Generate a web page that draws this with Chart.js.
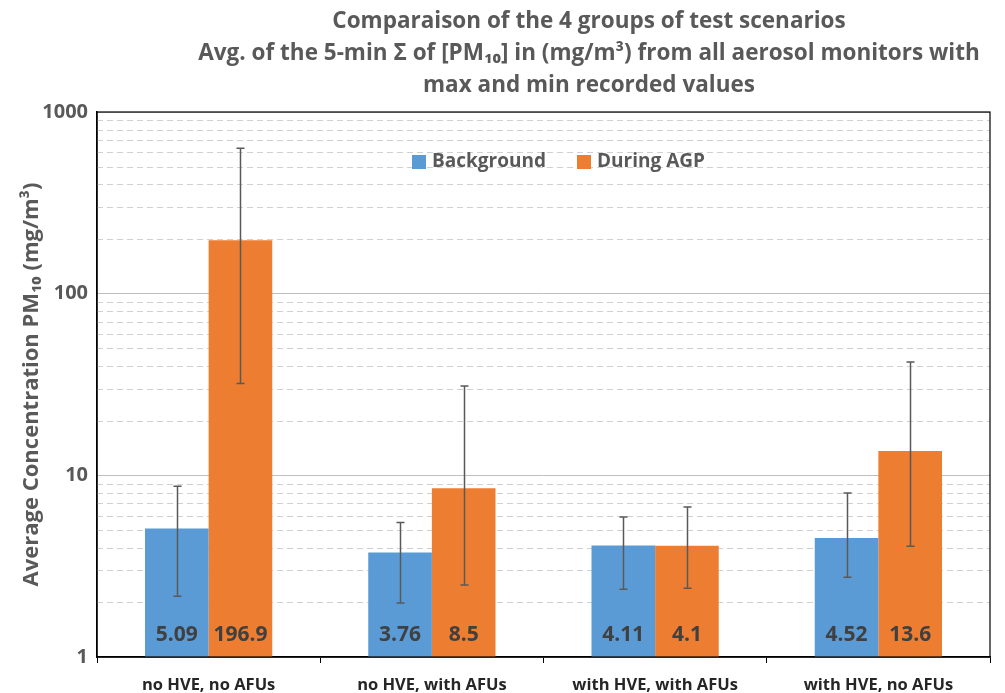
<!DOCTYPE html>
<html>
<head>
<meta charset="utf-8">
<script src="https://cdn.jsdelivr.net/npm/chart.js@4.4.1/dist/chart.umd.min.js"></script>
<style>
html, body { margin: 0; padding: 0; background: #fff; }
#wrap { width: 1005px; height: 693px; }
</style>
</head>
<body>
<div id="wrap"><canvas id="pmChart"></canvas></div>
<script>
const categories = ['no HVE, no AFUs', 'no HVE, with AFUs', 'with HVE, with AFUs', 'with HVE, no AFUs'];
const seriesNames = ['Background', 'During AGP'];
const backgroundAvg = [5.09, 3.76, 4.11, 4.52];
const duringAvg = [196.9, 8.5, 4.1, 13.6];
const backgroundMax = [8.7, 5.5, 5.9, 8.0];
const backgroundMin = [2.16, 1.98, 2.36, 2.75];
const duringMax = [632, 31, 6.7, 42];
const duringMin = [32, 2.49, 2.39, 4.07];
const backgroundLabels = ['5.09', '3.76', '4.11', '4.52'];
const duringLabels = ['196.9', '8.5', '4.1', '13.6'];
const yTicks = [1, 10, 100, 1000];
const titleLines = [
    'Comparaison of the 4 groups of test scenarios',
    'Avg. of the 5-min \u03A3 of [PM\u2081\u2080] in (mg/m\u00B3) from all aerosol monitors with',
    'max and min recorded values'
];
const yTitle = 'Average Concentration PM\u2081\u2080 (mg/m\u00B3)';

const FONT = '"Open Sans", "Liberation Sans", sans-serif';
const GREY = '#595959';

// dashed minor gridlines, 2..9 of each decade
const minorGrid = {
    id: 'minorGrid',
    beforeDatasetsDraw(chart) {
        const {ctx, chartArea, scales: {y}} = chart;
        ctx.save();
        ctx.strokeStyle = '#d0d0d0';
        ctx.lineWidth = 1;
        ctx.setLineDash([6, 4]);
        for (let d = 1; d < 1000; d *= 10) {
            for (let m = 2; m <= 9; m++) {
                const py = Math.round(y.getPixelForValue(d * m)) + 0.5;
                ctx.beginPath();
                ctx.moveTo(chartArea.left, py);
                ctx.lineTo(chartArea.right, py);
                ctx.stroke();
            }
        }
        ctx.restore();
    }
};

const extras = {
    id: 'extras',
    afterDatasetsDraw(chart) {
        const {ctx, chartArea, scales: {y}} = chart;
        const mins = [backgroundMin, duringMin];
        const maxs = [backgroundMax, duringMax];
        const labels = [backgroundLabels, duringLabels];
        ctx.save();
        chart.data.datasets.forEach((ds, di) => {
            const meta = chart.getDatasetMeta(di);
            meta.data.forEach((bar, i) => {
                // error bar
                const x = Math.round(bar.x) + 0.5;
                const yTop = y.getPixelForValue(maxs[di][i]);
                const yBot = y.getPixelForValue(mins[di][i]);
                ctx.strokeStyle = GREY;
                ctx.lineWidth = 1.5;
                ctx.beginPath();
                ctx.moveTo(x, yTop); ctx.lineTo(x, yBot);
                ctx.moveTo(x - 4, yTop); ctx.lineTo(x + 4, yTop);
                ctx.moveTo(x - 4, yBot); ctx.lineTo(x + 4, yBot);
                ctx.stroke();
                // value label
                ctx.fillStyle = '#404040';
                ctx.font = 'bold 21px ' + FONT;
                ctx.textAlign = 'center';
                ctx.textBaseline = 'middle';
                ctx.fillText(labels[di][i], bar.x, chartArea.bottom - 22);
            });
        });
        ctx.restore();
    },
    afterDraw(chart) {
        const {ctx, chartArea} = chart;
        ctx.save();
        // plot frame
        ctx.strokeStyle = '#000';
        ctx.lineWidth = 1.2;
        ctx.strokeRect(chartArea.left, chartArea.top, chartArea.right - chartArea.left, chartArea.bottom - chartArea.top);
        // title
        ctx.fillStyle = GREY;
        ctx.font = 'bold 22.5px ' + FONT;
        ctx.textAlign = 'center';
        ctx.textBaseline = 'middle';
        titleLines.forEach((t, i) => ctx.fillText(t, 589, 22 + i * 32));
        // legend inside the plot
        const colors = ['#5B9BD5', '#ED7D31'];
        const xs = [412, 577];
        ctx.font = 'bold 19px ' + FONT;
        ctx.textAlign = 'left';
        seriesNames.forEach((name, i) => {
            ctx.fillStyle = colors[i];
            ctx.fillRect(xs[i], 155, 14, 14);
            ctx.fillStyle = GREY;
            ctx.fillText(name, xs[i] + 20, 162);
        });
        ctx.restore();
    }
};

new Chart(document.getElementById('pmChart'), {
    type: 'bar',
    data: {
        labels: categories,
        datasets: [
            { label: seriesNames[0], data: backgroundAvg, backgroundColor: '#5B9BD5' },
            { label: seriesNames[1], data: duringAvg, backgroundColor: '#ED7D31' }
        ]
    },
    options: {
        responsive: true,
        maintainAspectRatio: false,
        animation: false,
        datasets: { bar: { categoryPercentage: 0.57, barPercentage: 1.0 } },
        layout: { padding: { top: 112, right: 15, left: 0, bottom: 0 } },
        plugins: {
            legend: { display: false },
            title: { display: false },
            tooltip: { enabled: false }
        },
        scales: {
            x: {
                grid: { drawOnChartArea: false, drawTicks: true, tickLength: 6, tickColor: '#000', offset: true },
                border: { display: true, color: '#000', width: 1.5 },
                ticks: { color: '#262626', padding: 12, font: { family: FONT, size: 16.5, weight: 'bold' } },
                afterFit(scale) { scale.height = 36; }
            },
            y: {
                type: 'logarithmic',
                min: 1,
                max: 1000,
                afterBuildTicks(scale) { scale.ticks = yTicks.map(v => ({ value: v })); },
                grid: { color: '#bfbfbf', lineWidth: 1, drawTicks: false },
                border: { display: true, color: '#000', width: 1.5 },
                ticks: {
                    color: GREY,
                    padding: 9,
                    font: { family: FONT, size: 20, weight: 'bold' },
                    callback: v => String(v)
                },
                title: {
                    display: true,
                    text: yTitle,
                    color: GREY,
                    padding: { top: 19, bottom: 0 },
                    font: { family: FONT, size: 22, weight: 'bold' }
                },
                afterFit(scale) { scale.width = 97; }
            }
        }
    },
    plugins: [minorGrid, extras]
});
</script>
</body>
</html>
